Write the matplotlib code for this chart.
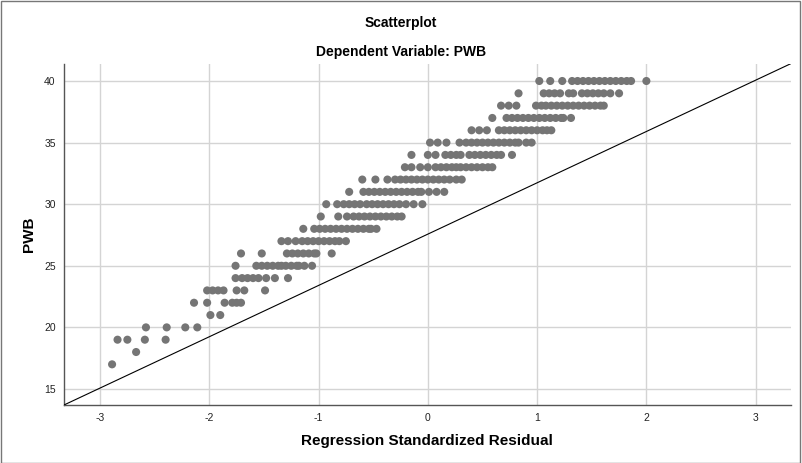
import matplotlib.pyplot as plt
import numpy as np
from matplotlib.patches import Rectangle

plt.rcParams['font.family'] = ['Liberation Sans', 'DejaVu Sans']
plt.rcParams['axes.unicode_minus'] = False

# standardized residuals, one list per PWB score
rows = {
    40: [1.02, 1.12, 1.23, 1.32, 1.37, 1.42, 1.47, 1.52, 1.57, 1.62, 1.67, 1.72, 1.77, 1.82, 1.86, 2.00],
    39: [0.83, 1.06, 1.11, 1.16, 1.21, 1.29, 1.33, 1.41, 1.46, 1.51, 1.56, 1.61, 1.67, 1.75],
    38: [0.67, 0.74, 0.81, 0.99, 1.04, 1.08, 1.13, 1.18, 1.23, 1.28, 1.33, 1.38, 1.43, 1.48, 1.53, 1.58, 1.61],
    37: [0.59, 0.72, 0.77, 0.82, 0.87, 0.92, 0.97, 1.02, 1.07, 1.12, 1.17, 1.22, 1.24, 1.31],
    36: [0.40, 0.47, 0.54, 0.65, 0.70, 0.75, 0.80, 0.85, 0.90, 0.95, 1.00, 1.05, 1.09, 1.13],
    35: [0.02, 0.09, 0.17, 0.29, 0.35, 0.40, 0.45, 0.50, 0.55, 0.60, 0.65, 0.70, 0.75, 0.80, 0.83, 0.90, 0.95],
    34: [-0.15, 0.00, 0.07, 0.16, 0.21, 0.26, 0.30, 0.38, 0.43, 0.48, 0.53, 0.58, 0.63, 0.67, 0.77],
    33: [-0.21, -0.15, -0.07, 0.00, 0.07, 0.12, 0.17, 0.22, 0.26, 0.30, 0.35, 0.40, 0.45, 0.50, 0.55, 0.59],
    32: [-0.60, -0.48, -0.37, -0.30, -0.25, -0.20, -0.15, -0.10, -0.05, 0.00, 0.05, 0.10, 0.15, 0.20, 0.26, 0.31],
    31: [-0.72, -0.59, -0.54, -0.49, -0.44, -0.39, -0.34, -0.29, -0.24, -0.19, -0.14, -0.09, -0.06, 0.01, 0.08, 0.15],
    30: [-0.93, -0.83, -0.77, -0.72, -0.67, -0.62, -0.56, -0.51, -0.46, -0.41, -0.36, -0.31, -0.26, -0.20, -0.13, -0.05],
    29: [-0.98, -0.82, -0.74, -0.68, -0.63, -0.58, -0.53, -0.48, -0.43, -0.38, -0.33, -0.28, -0.24],
    28: [-1.14, -1.04, -0.99, -0.94, -0.89, -0.84, -0.79, -0.74, -0.69, -0.64, -0.59, -0.54, -0.52, -0.47],
    27: [-1.34, -1.28, -1.21, -1.15, -1.10, -1.05, -1.00, -0.95, -0.90, -0.85, -0.81, -0.75],
    26: [-1.71, -1.52, -1.29, -1.24, -1.19, -1.14, -1.09, -1.04, -1.02, -0.88],
    25: [-1.76, -1.57, -1.52, -1.47, -1.42, -1.37, -1.34, -1.30, -1.25, -1.20, -1.18, -1.13, -1.06],
    24: [-1.76, -1.70, -1.65, -1.60, -1.55, -1.48, -1.40, -1.28],
    23: [-2.02, -1.97, -1.92, -1.87, -1.75, -1.68, -1.49],
    22: [-2.14, -2.02, -1.86, -1.79, -1.75, -1.71],
    21: [-1.99, -1.90],
    20: [-2.58, -2.39, -2.22, -2.11],
    19: [-2.84, -2.75, -2.59, -2.40],
    18: [-2.67],
    17: [-2.89],
}

x_ticks = [-3, -2, -1, 0, 1, 2, 3]
y_ticks = [15, 20, 25, 30, 35, 40]
x_lim = (-3.33, 3.32)
y_lim = (13.7, 41.4)

resid = []
pwb = []
for score, vals in rows.items():
    resid.extend(vals)
    pwb.extend([score] * len(vals))

fig = plt.figure(figsize=(8.02, 4.63), dpi=100)
ax = fig.add_axes([0.0798, 0.1253, 0.906, 0.737])

ax.grid(True, color='#d4d4d4', linewidth=1.0)
ax.set_axisbelow(True)
ax.scatter(resid, pwb, s=34, color='#757575', edgecolors='none', zorder=3)

# reference line corner to corner
ax.plot(x_lim, y_lim, color='black', linewidth=0.8, zorder=4)

ax.set_xlim(x_lim)
ax.set_ylim(y_lim)
ax.set_xticks(x_ticks)
ax.set_yticks(y_ticks)
ax.tick_params(length=0, labelsize=7.5, colors='#222222', pad=6)

for side in ['top', 'right']:
    ax.spines[side].set_visible(False)
for side in ['left', 'bottom']:
    ax.spines[side].set_color('#555555')
    ax.spines[side].set_linewidth(1.0)

ax.set_xlabel('Regression Standardized Residual', fontsize=11, fontweight='bold', labelpad=8)
ax.set_ylabel('PWB', fontsize=11, fontweight='bold', labelpad=6)

fig.text(0.5, 1 - 23 / 463, 'Scatterplot', ha='center', va='center', fontsize=10, fontweight='bold')
fig.text(0.5, 1 - 52 / 463, 'Dependent Variable: PWB', ha='center', va='center', fontsize=10, fontweight='bold')

fig.patches.append(Rectangle((0.001, 0.001), 0.997, 0.997, transform=fig.transFigure,
                             fill=False, edgecolor='#777777', linewidth=1.0))

fig.savefig('out.png', dpi=100)
